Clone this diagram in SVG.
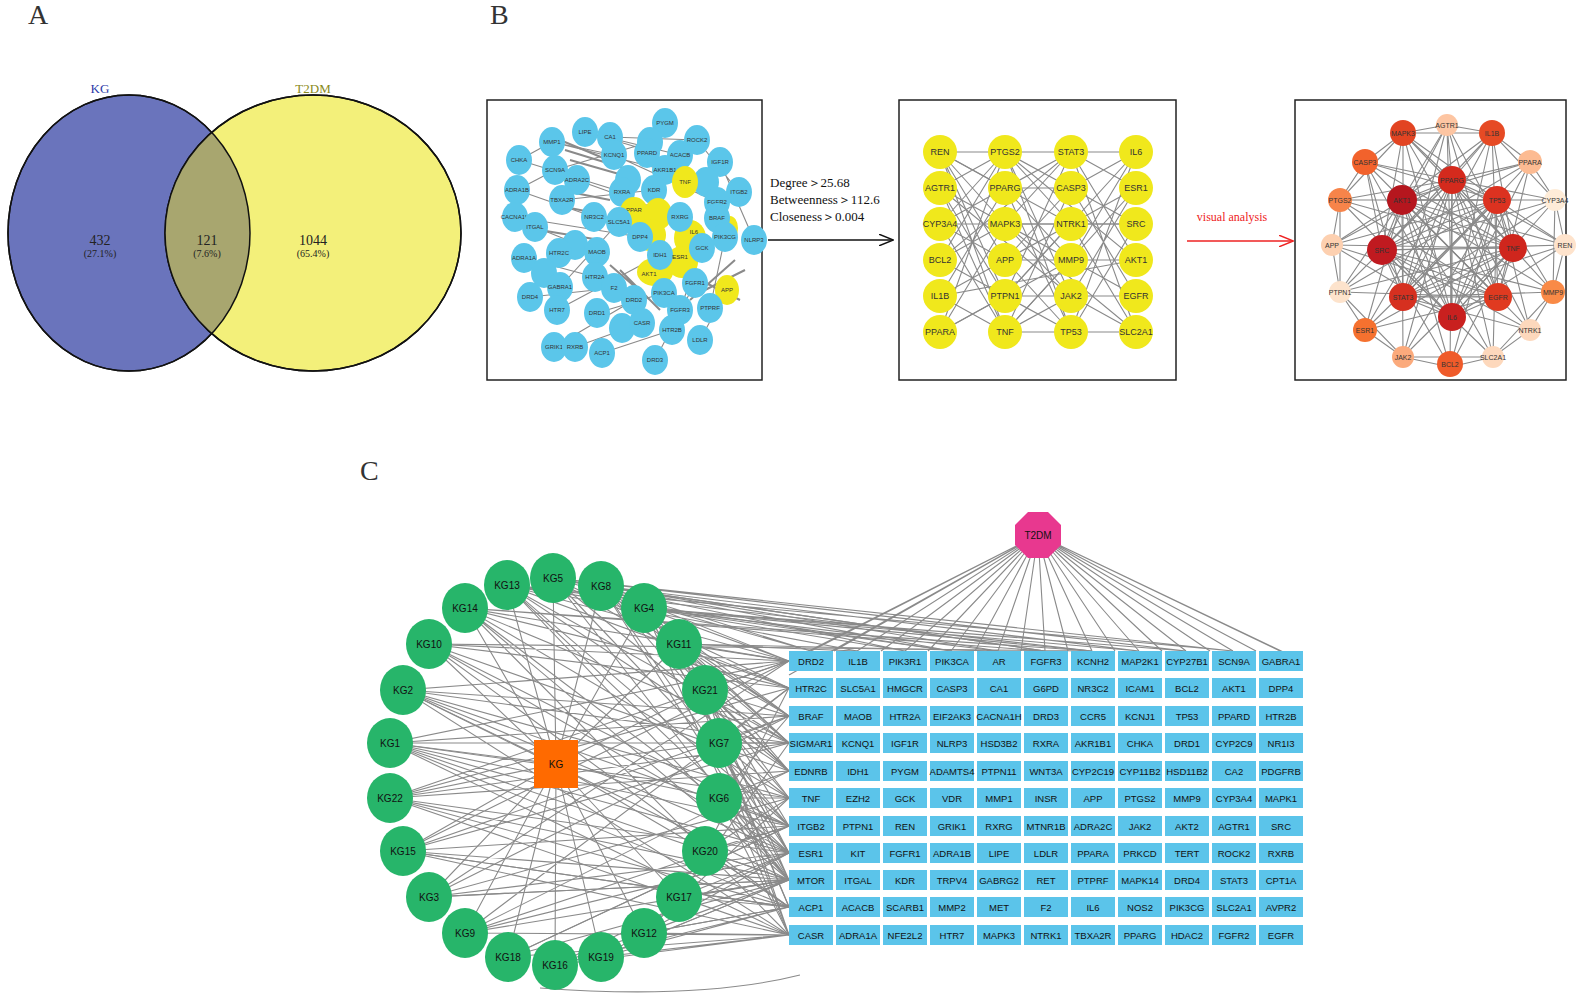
<svg xmlns="http://www.w3.org/2000/svg" width="1588" height="1008" viewBox="0 0 1588 1008">
<style>
.pl{font-family:"Liberation Serif",serif;font-size:28px;fill:#333}
.sv{font-family:"Liberation Serif",serif;fill:#222;text-anchor:middle}
.e{stroke:#8a8a8a;fill:none;stroke-width:1.1}
.bx{fill:#fff;stroke:#222;stroke-width:1.5}
.b1 ellipse{fill:#5bc6ea}
.b1 text,.b2 text,.b3 text{font-family:"Liberation Sans",sans-serif;font-size:6px;fill:#333;text-anchor:middle;dominant-baseline:central}
.b2 circle{fill:#f0e81c}
.b2 text{font-size:9px}
.b3 text{font-size:7px}
.g ellipse{fill:#27b56a}
.g text,.c text{font-family:"Liberation Sans",sans-serif;font-size:10px;fill:#111;text-anchor:middle;dominant-baseline:central}
.c text{font-size:9.5px}
.c rect{fill:#5bc4ea}
</style>
<defs>
<clipPath id="cb"><ellipse cx="129" cy="233" rx="121" ry="138"/></clipPath>
<marker id="ak" markerWidth="10" markerHeight="8" refX="9" refY="4" orient="auto"><path d="M0 0L10 4L0 8" fill="none" stroke="#111"/></marker>
<marker id="ar" markerWidth="10" markerHeight="8" refX="9" refY="4" orient="auto"><path d="M0 0L10 4L0 8" fill="none" stroke="#e22"/></marker>
</defs>
<rect width="1588" height="1008" fill="#fff"/>
<text class="pl" x="28" y="24">A</text>
<text class="pl" x="490" y="24">B</text>
<text class="pl" x="360" y="480">C</text>

<g id="venn">
<ellipse cx="129" cy="233" rx="121" ry="138" fill="#6a74bc" stroke="#111" stroke-width="1.5"/>
<ellipse cx="313" cy="233" rx="148" ry="138" fill="#f3f07a" stroke="#111" stroke-width="1.5"/>
<ellipse cx="313" cy="233" rx="148" ry="138" fill="#a8a66f" clip-path="url(#cb)"/>
<ellipse cx="129" cy="233" rx="121" ry="138" fill="none" stroke="#111" stroke-width="1.5"/>
<ellipse cx="313" cy="233" rx="148" ry="138" fill="none" stroke="#111" stroke-width="1.5"/>
<text class="sv" x="100" y="93" font-size="13" style="fill:#2a3aa8">KG</text>
<text class="sv" x="313" y="93" font-size="13" style="fill:#8a8a20">T2DM</text>
<text class="sv" x="100" y="245" font-size="14">432</text><text class="sv" x="100" y="257" font-size="10">(27.1%)</text>
<text class="sv" x="207" y="245" font-size="14">121</text><text class="sv" x="207" y="257" font-size="10">(7.6%)</text>
<text class="sv" x="313" y="245" font-size="14">1044</text><text class="sv" x="313" y="257" font-size="10">(65.4%)</text>
</g>

<rect class="bx" x="487" y="100" width="275" height="280"/>
<rect class="bx" x="899" y="100" width="277" height="280"/>
<rect class="bx" x="1295" y="100" width="271" height="280"/>

<g id="b1-edges" class="e">
<path d="M552 142L665 170M585 132L680 155M610 137L697 140M519 160L622 192M517 190L594 217M515 217L640 237M535 227L597 252M524 258L595 277M530 297L614 288M557 310L660 255M554 347L634 300M575 347L642 323M602 353L672 330M555 170L650 142M562 200L654 190M577 180L680 217M614 155L717 202M697 140L739 192M720 162L754 240M725 237L710 308M700 340L727 290M655 360L695 283M560 287L619 222M544 273L559 253M519 160L552 142M517 190L555 170M552 142L614 155M585 132L647 150M597 313L664 293M680 310L702 248"/>
<path d="M560 140L620 165M565 150L630 170M570 160L640 180M560 190L610 200M555 205L605 215M540 230L600 240M610 265L650 300M620 270L660 310M700 280L740 300M705 290L745 270M690 300L735 260" stroke-width="2"/>
</g>
<g id="b1" class="b1">
<ellipse cx="665" cy="123" rx="13" ry="15"/><text x="665" y="123">PYGM</text>
<ellipse cx="585" cy="132" rx="13" ry="15"/><text x="585" y="132">LIPE</text>
<ellipse cx="610" cy="137" rx="13" ry="15"/><text x="610" y="137">CA1</text>
<ellipse cx="697" cy="140" rx="13" ry="15"/><text x="697" y="140">ROCK2</text>
<ellipse cx="552" cy="142" rx="13" ry="15"/><text x="552" y="142">MMP1</text>
<ellipse cx="650" cy="142" rx="13" ry="15"/>
<ellipse cx="647" cy="153" rx="13" ry="15"/><text x="647" y="153">PPARD</text>
<ellipse cx="680" cy="155" rx="13" ry="15"/><text x="680" y="155">ACACB</text>
<ellipse cx="614" cy="155" rx="13" ry="15"/><text x="614" y="155">KCNQ1</text>
<ellipse cx="519" cy="160" rx="13" ry="15"/><text x="519" y="160">CHKA</text>
<ellipse cx="720" cy="162" rx="13" ry="15"/><text x="720" y="162">IGF1R</text>
<ellipse cx="665" cy="170" rx="13" ry="15"/><text x="665" y="170">AKR1B1</text>
<ellipse cx="555" cy="170" rx="13" ry="15"/><text x="555" y="170">SCN9A</text>
<ellipse cx="577" cy="180" rx="13" ry="15"/><text x="577" y="180">ADRA2C</text>
<ellipse cx="628" cy="180" rx="13" ry="15"/>
<ellipse cx="517" cy="190" rx="13" ry="15"/><text x="517" y="190">ADRA1B</text>
<ellipse cx="706" cy="182" rx="13" ry="15"/>
<ellipse cx="739" cy="192" rx="13" ry="15"/><text x="739" y="192">ITGB2</text>
<ellipse cx="622" cy="192" rx="13" ry="15"/><text x="622" y="192">RXRA</text>
<ellipse cx="654" cy="190" rx="13" ry="15"/><text x="654" y="190">KDR</text>
<ellipse cx="562" cy="200" rx="13" ry="15"/><text x="562" y="200">TBXA2R</text>
<ellipse cx="717" cy="202" rx="13" ry="15"/><text x="717" y="202">FGFR2</text>
<ellipse cx="685" cy="182" rx="13" ry="16" style="fill:#f0e81c"/><text x="685" y="182">TNF</text>
<ellipse cx="634" cy="212" rx="14" ry="15" style="fill:#f0e81c"/><text x="634" y="210">PPAR</text>
<ellipse cx="658" cy="214" rx="14" ry="16" style="fill:#f0e81c"/>
<ellipse cx="650" cy="235" rx="16" ry="16" style="fill:#f0e81c"/>
<ellipse cx="690" cy="238" rx="16" ry="18" style="fill:#f0e81c"/>
<ellipse cx="655" cy="272" rx="18" ry="14" style="fill:#f0e81c"/>
<ellipse cx="682" cy="262" rx="16" ry="16" style="fill:#f0e81c"/>
<ellipse cx="730" cy="228" rx="8" ry="12" style="fill:#f0e81c"/>
<ellipse cx="594" cy="217" rx="13" ry="15"/><text x="594" y="217">NR3C2</text>
<ellipse cx="515" cy="217" rx="13" ry="15"/><text x="515" y="217">CACNA1H</text>
<ellipse cx="619" cy="222" rx="13" ry="15"/><text x="619" y="222">SLC5A1</text>
<ellipse cx="680" cy="217" rx="13" ry="15"/><text x="680" y="217">RXRG</text>
<ellipse cx="717" cy="218" rx="13" ry="15"/><text x="717" y="218">BRAF</text>
<ellipse cx="535" cy="227" rx="13" ry="15"/><text x="535" y="227">ITGAL</text>
<ellipse cx="640" cy="237" rx="13" ry="15"/><text x="640" y="237">DPP4</text>
<text x="694" y="232">IL6</text>
<ellipse cx="725" cy="237" rx="13" ry="15"/><text x="725" y="237">PIK3CG</text>
<ellipse cx="754" cy="240" rx="13" ry="15"/><text x="754" y="240">NLRP3</text>
<ellipse cx="575" cy="245" rx="13" ry="15"/>
<ellipse cx="559" cy="253" rx="13" ry="15"/><text x="559" y="253">HTR2C</text>
<ellipse cx="597" cy="252" rx="13" ry="15"/><text x="597" y="252">MAOB</text>
<ellipse cx="660" cy="255" rx="13" ry="15"/><text x="660" y="255">IDH1</text>
<text x="680" y="257">ESR1</text>
<ellipse cx="702" cy="248" rx="13" ry="15"/><text x="702" y="248">GCK</text>
<ellipse cx="524" cy="258" rx="13" ry="15"/><text x="524" y="258">ADRA1A</text>
<ellipse cx="544" cy="273" rx="13" ry="15"/>
<ellipse cx="595" cy="277" rx="13" ry="15"/><text x="595" y="277">HTR2A</text>
<text x="649" y="274">AKT1</text>
<ellipse cx="695" cy="283" rx="13" ry="15"/><text x="695" y="283">FGFR1</text>
<ellipse cx="560" cy="287" rx="13" ry="15"/><text x="560" y="287">GABRA1</text>
<ellipse cx="614" cy="288" rx="13" ry="15"/><text x="614" y="288">F2</text>
<ellipse cx="664" cy="293" rx="13" ry="15"/><text x="664" y="293">PIK3CA</text>
<ellipse cx="727" cy="290" rx="12" ry="15" style="fill:#f0e81c"/><text x="727" y="290">APP</text>
<ellipse cx="530" cy="297" rx="13" ry="15"/><text x="530" y="297">DRD4</text>
<ellipse cx="634" cy="300" rx="13" ry="15"/><text x="634" y="300">DRD2</text>
<ellipse cx="680" cy="310" rx="13" ry="15"/><text x="680" y="310">FGFR3</text>
<ellipse cx="710" cy="308" rx="13" ry="15"/><text x="710" y="308">PTPRF</text>
<ellipse cx="557" cy="310" rx="13" ry="15"/><text x="557" y="310">HTR7</text>
<ellipse cx="597" cy="313" rx="13" ry="15"/><text x="597" y="313">DRD1</text>
<ellipse cx="622" cy="328" rx="13" ry="15"/>
<ellipse cx="642" cy="323" rx="13" ry="15"/><text x="642" y="323">CASR</text>
<ellipse cx="672" cy="330" rx="13" ry="15"/><text x="672" y="330">HTR2B</text>
<ellipse cx="700" cy="340" rx="13" ry="15"/><text x="700" y="340">LDLR</text>
<ellipse cx="554" cy="347" rx="13" ry="15"/><text x="554" y="347">GRIK1</text>
<ellipse cx="575" cy="347" rx="13" ry="15"/><text x="575" y="347">RXRB</text>
<ellipse cx="602" cy="353" rx="13" ry="15"/><text x="602" y="353">ACP1</text>
<ellipse cx="655" cy="360" rx="13" ry="15"/><text x="655" y="360">DRD3</text>
</g>

<g id="arrows">
<path d="M768 240H892" stroke="#111" stroke-width="1.5" marker-end="url(#ak)"/>
<text x="770" y="187" font-family="Liberation Serif,serif" font-size="13" fill="#111">Degree＞25.68</text>
<text x="770" y="204" font-family="Liberation Serif,serif" font-size="13" fill="#111">Betweenness＞112.6</text>
<text x="770" y="221" font-family="Liberation Serif,serif" font-size="13" fill="#111">Closeness＞0.004</text>
<path d="M1187 241H1292" stroke="#e22" stroke-width="1.5" marker-end="url(#ar)"/>
<text x="1232" y="221" font-family="Liberation Serif,serif" font-size="12" fill="#e22" text-anchor="middle">visual analysis</text>
</g>

<g id="b2-edges" class="e" stroke-width="0.8">
<path d="M940 152L1005 152M940 152L1005 188M940 152L1005 224M940 152L1005 260M940 152L1005 296M940 152L1005 332M940 188L1005 152M940 188L1005 224M940 188L1005 296M940 188L1005 332M940 224L1005 152M940 224L1005 188M940 224L1005 260M940 224L1005 332M940 260L1005 152M940 260L1005 224M940 260L1005 296M940 296L1005 188M940 296L1005 260M940 296L1005 332M940 332L1005 152M940 332L1005 224M940 332L1005 296"/>
<path d="M1005 152L1071 152M1005 152L1071 224M1005 152L1071 296M1005 152L1071 332M1005 188L1071 188M1005 188L1071 260M1005 188L1071 332M1005 224L1071 152M1005 224L1071 224M1005 224L1071 296M1005 260L1071 188M1005 260L1071 260M1005 260L1071 332M1005 296L1071 152M1005 296L1071 224M1005 296L1071 296M1005 332L1071 188M1005 332L1071 260M1005 332L1071 332M1005 152L1071 188M1005 188L1071 152M1005 224L1071 260M1005 260L1071 224M1005 296L1071 332M1005 332L1071 296"/>
<path d="M1071 152L1136 152M1071 152L1136 188M1071 152L1136 260M1071 152L1136 332M1071 188L1136 152M1071 188L1136 224M1071 188L1136 296M1071 224L1136 188M1071 224L1136 224M1071 224L1136 332M1071 260L1136 152M1071 260L1136 260M1071 260L1136 296M1071 296L1136 188M1071 296L1136 296M1071 296L1136 332M1071 332L1136 152M1071 332L1136 224M1071 332L1136 332"/>
<path d="M940 152L1071 224M940 188L1071 296M940 260L1071 152M940 332L1071 260M1005 152L1136 260M1005 224L1136 332M1005 296L1136 152M1005 332L1136 188M940 224L1136 224M940 296L1136 260"/>
</g>
<g id="b2" class="b2">
<circle cx="940" cy="152" r="17"/><text x="940" y="152">REN</text>
<circle cx="1005" cy="152" r="17"/><text x="1005" y="152">PTGS2</text>
<circle cx="1071" cy="152" r="17"/><text x="1071" y="152">STAT3</text>
<circle cx="1136" cy="152" r="17"/><text x="1136" y="152">IL6</text>
<circle cx="940" cy="188" r="17"/><text x="940" y="188">AGTR1</text>
<circle cx="1005" cy="188" r="17"/><text x="1005" y="188">PPARG</text>
<circle cx="1071" cy="188" r="17"/><text x="1071" y="188">CASP3</text>
<circle cx="1136" cy="188" r="17"/><text x="1136" y="188">ESR1</text>
<circle cx="940" cy="224" r="17"/><text x="940" y="224">CYP3A4</text>
<circle cx="1005" cy="224" r="17"/><text x="1005" y="224">MAPK3</text>
<circle cx="1071" cy="224" r="17"/><text x="1071" y="224">NTRK1</text>
<circle cx="1136" cy="224" r="17"/><text x="1136" y="224">SRC</text>
<circle cx="940" cy="260" r="17"/><text x="940" y="260">BCL2</text>
<circle cx="1005" cy="260" r="17"/><text x="1005" y="260">APP</text>
<circle cx="1071" cy="260" r="17"/><text x="1071" y="260">MMP9</text>
<circle cx="1136" cy="260" r="17"/><text x="1136" y="260">AKT1</text>
<circle cx="940" cy="296" r="17"/><text x="940" y="296">IL1B</text>
<circle cx="1005" cy="296" r="17"/><text x="1005" y="296">PTPN1</text>
<circle cx="1071" cy="296" r="17"/><text x="1071" y="296">JAK2</text>
<circle cx="1136" cy="296" r="17"/><text x="1136" y="296">EGFR</text>
<circle cx="940" cy="332" r="17"/><text x="940" y="332">PPARA</text>
<circle cx="1005" cy="332" r="17"/><text x="1005" y="332">TNF</text>
<circle cx="1071" cy="332" r="17"/><text x="1071" y="332">TP53</text>
<circle cx="1136" cy="332" r="17"/><text x="1136" y="332">SLC2A1</text>
</g>

<g id="b3-edges" class="e" stroke-width="1">
<path d="M1452 180L1447 125L1452 180L1403 133L1452 180L1492 133L1452 180L1365 162L1452 180L1530 162L1452 180L1340 200L1452 180L1555 200L1452 180L1332 245L1452 180L1565 245L1452 180L1340 292L1452 180L1553 292L1452 180L1365 330L1452 180L1530 330L1452 180L1403 357L1452 180L1450 367L1452 180L1493 357"/>
<path d="M1402 200L1447 125L1402 200L1492 133L1402 200L1530 162L1402 200L1555 200L1402 200L1565 245L1402 200L1553 292L1402 200L1530 330L1402 200L1493 357L1402 200L1450 367L1402 200L1403 357L1402 200L1365 330L1402 200L1340 292L1402 200L1332 245"/>
<path d="M1497 200L1403 133L1497 200L1365 162L1497 200L1340 200L1497 200L1332 245L1497 200L1340 292L1497 200L1365 330L1497 200L1403 357L1497 200L1450 367L1497 200L1493 357L1497 200L1530 330L1497 200L1553 292L1497 200L1565 245"/>
<path d="M1382 250L1447 125L1382 250L1492 133L1382 250L1530 162L1382 250L1555 200L1382 250L1565 245L1382 250L1553 292L1382 250L1530 330L1382 250L1493 357L1382 250L1450 367L1382 250L1403 133L1382 250L1365 162"/>
<path d="M1513 248L1447 125L1513 248L1403 133L1513 248L1365 162L1513 248L1340 200L1513 248L1332 245L1513 248L1340 292L1513 248L1365 330L1513 248L1403 357L1513 248L1450 367L1513 248L1492 133"/>
<path d="M1403 297L1447 125L1403 297L1492 133L1403 297L1530 162L1403 297L1555 200L1403 297L1565 245L1403 297L1553 292L1403 297L1530 330L1403 297L1365 162L1403 297L1403 133"/>
<path d="M1498 297L1447 125L1498 297L1403 133L1498 297L1365 162L1498 297L1340 200L1498 297L1332 245L1498 297L1340 292L1498 297L1365 330L1498 297L1530 162L1498 297L1492 133"/>
<path d="M1452 317L1447 125L1452 317L1403 133L1452 317L1492 133L1452 317L1365 162L1452 317L1530 162L1452 317L1340 200L1452 317L1555 200L1452 317L1332 245L1452 317L1565 245"/>
<path d="M1452 180L1402 200L1452 180L1497 200L1452 180L1382 250L1452 180L1513 248L1452 180L1403 297L1452 180L1498 297L1452 180L1452 317L1402 200L1497 200L1402 200L1382 250L1402 200L1513 248L1402 200L1498 297L1402 200L1452 317L1497 200L1382 250L1497 200L1513 248L1497 200L1403 297L1497 200L1452 317L1382 250L1513 248L1382 250L1403 297L1382 250L1498 297L1513 248L1403 297L1513 248L1452 317L1403 297L1498 297L1403 297L1452 317L1498 297L1452 317"/>
<path d="M1447 125L1403 133L1365 162L1340 200L1332 245L1340 292L1365 330L1403 357L1450 367L1493 357L1530 330L1553 292L1565 245L1555 200L1530 162L1492 133L1447 125M1403 133L1340 200L1340 292L1403 357L1493 357L1553 292L1555 200L1492 133Z"/>
</g>
<g id="b3" class="b3">
<circle cx="1447" cy="125" r="11" fill="#fdc5a2"/><text x="1447" y="125">AGTR1</text>
<circle cx="1403" cy="133" r="13" fill="#e24422"/><text x="1403" y="133">MAPK3</text>
<circle cx="1492" cy="133" r="13" fill="#e64a24"/><text x="1492" y="133">IL1B</text>
<circle cx="1365" cy="162" r="13" fill="#f2622c"/><text x="1365" y="162">CASP3</text>
<circle cx="1530" cy="162" r="12" fill="#fcbb92"/><text x="1530" y="162">PPARA</text>
<circle cx="1452" cy="180" r="14" fill="#d42a1d"/><text x="1452" y="180">PPARG</text>
<circle cx="1402" cy="200" r="15" fill="#b5161e"/><text x="1402" y="200">AKT1</text>
<circle cx="1497" cy="200" r="14" fill="#dc3220"/><text x="1497" y="200">TP53</text>
<circle cx="1340" cy="200" r="12" fill="#f7844a"/><text x="1340" y="200">PTGS2</text>
<circle cx="1555" cy="200" r="11" fill="#feecd8"/><text x="1555" y="200">CYP3A4</text>
<circle cx="1332" cy="245" r="11" fill="#fdd0b0"/><text x="1332" y="245">APP</text>
<circle cx="1382" cy="250" r="15" fill="#c01a20"/><text x="1382" y="250">SRC</text>
<circle cx="1513" cy="248" r="14" fill="#cf261d"/><text x="1513" y="248">TNF</text>
<circle cx="1565" cy="245" r="11" fill="#fee3cc"/><text x="1565" y="245">REN</text>
<circle cx="1340" cy="292" r="11" fill="#fde3cc"/><text x="1340" y="292">PTPN1</text>
<circle cx="1403" cy="297" r="14" fill="#d63020"/><text x="1403" y="297">STAT3</text>
<circle cx="1498" cy="297" r="14" fill="#e03a20"/><text x="1498" y="297">EGFR</text>
<circle cx="1553" cy="292" r="12" fill="#f98a47"/><text x="1553" y="292">MMP9</text>
<circle cx="1452" cy="317" r="14" fill="#c9201f"/><text x="1452" y="317">IL6</text>
<circle cx="1365" cy="330" r="12" fill="#f5712f"/><text x="1365" y="330">ESR1</text>
<circle cx="1530" cy="330" r="11" fill="#fdd8bc"/><text x="1530" y="330">NTRK1</text>
<circle cx="1403" cy="357" r="11" fill="#fbaa7c"/><text x="1403" y="357">JAK2</text>
<circle cx="1450" cy="364" r="13" fill="#ef5b2a"/><text x="1450" y="364">BCL2</text>
<circle cx="1493" cy="357" r="11" fill="#fdd8bc"/><text x="1493" y="357">SLC2A1</text>
</g>

<g id="c-edges" class="e" stroke-width="1.2">
<path d="M1038 535L811 651M1038 535L857 651M1038 535L905 651M1038 535L951 651M1038 535L998 651M1038 535L1045 651M1038 535L1092 651M1038 535L1139 651M1038 535L1186 651M1038 535L1233 651M1038 535L1280 651M1038 535L834 651M1038 535L881 651M1038 535L928 651M1038 535L975 651M1038 535L1021 651M1038 535L1068 651M1038 535L1115 651M1038 535L1162 651M1038 535L1210 651M1038 535L1256 651M1038 535L1300 660M1038 535L789 661M1038 535L789 675"/>
<path d="M556 764L553 578M556 764L507 585M556 764L601 586M556 764L465 608M556 764L644 608M556 764L429 644M556 764L679 644M556 764L403 690M556 764L705 690M556 764L390 743M556 764L719 743M556 764L390 798M556 764L719 798M556 764L403 851M556 764L705 851M556 764L429 897M556 764L679 897M556 764L465 933M556 764L644 933M556 764L508 957M556 764L555 965M556 764L601 957"/>
<path d="M553 578L811 651L553 578L905 651L553 578L998 651L553 578L789 716L553 578L789 826L507 585L857 651L507 585L951 651L507 585L789 688L507 585L789 771L601 586L811 651L601 586L1045 651L601 586L789 661L601 586L789 743L601 586L789 880L465 608L789 661L465 608L789 743L465 608L789 853L644 608L789 661L644 608L789 716L644 608L789 798L644 608L905 651L644 608L1092 651L429 644L789 688L429 644L789 771L429 644L789 907"/>
<path d="M679 644L789 661L679 644L789 688L679 644L789 743L679 644L789 826L679 644L789 935L403 690L789 661L403 690L789 716L403 690L789 798L403 690L789 880L705 690L789 661L705 690L789 716L705 690L789 771L705 690L789 853L705 690L789 935L390 743L789 661L390 743L789 743L390 743L789 826L390 743L789 907L719 743L789 688L719 743L789 743L719 743L789 798L719 743L789 880"/>
<path d="M390 798L789 688L390 798L789 771L390 798L789 853L390 798L789 935L719 798L789 716L719 798L789 798L719 798L789 853L719 798L789 935L403 851L789 661L403 851L789 743L403 851L789 826L403 851L789 907L705 851L789 688L705 851L789 798L705 851L789 880L429 897L789 716L429 897L789 798L429 897L789 880L679 897L789 743L679 897L789 853L679 897L789 935"/>
<path d="M465 933L789 771L465 933L789 880L465 933L789 935L644 933L789 798L644 933L789 907L644 933L789 935L508 957L789 826L508 957L789 935L555 965L789 853L555 965L789 935L601 957L789 880L601 957L789 935"/>
<path d="M553 578L789 688L553 578L789 771L553 578L789 880L507 585L789 661L507 585L789 743L507 585L789 853L601 586L789 716L601 586L789 798L465 608L789 688L465 608L789 798L465 608L789 935L644 608L789 743L644 608L789 853L429 644L789 661L429 644L789 826L403 690L789 743L403 690L789 853L390 743L789 716L390 743L789 798L390 743L789 880L390 798L789 661L390 798L789 743L390 798L789 907L403 851L789 716L403 851L789 880L429 897L789 661L429 897L789 853L465 933L789 688L465 933L789 826L508 957L789 880L555 965L789 907L601 957L789 907L679 644L789 716L679 644L789 771L705 690L789 743L719 743L789 716L719 743L789 826L719 798L789 771L719 798L789 880L705 851L789 826L705 851L789 907L679 897L789 880L679 897L789 907L644 933L789 880L601 957L789 853"/>
<path d="M601 586L1139 651L644 608L1186 651L553 578L1233 651L507 585L1092 651L465 608L1045 651L601 586L951 651L644 608L998 651L679 644L857 651"/>
<path d="M540 988Q700 1000 800 975" />
</g>

<g id="T2DM"><polygon points="1028,512 1048,512 1061,525 1061,545 1048,558 1028,558 1015,545 1015,525" fill="#e8388f"/><text x="1038" y="535" font-family="Liberation Sans,sans-serif" font-size="10" text-anchor="middle" dominant-baseline="central" fill="#111">T2DM</text></g>
<g id="KG"><rect x="534" y="740" width="44" height="48" fill="#ff6a00"/><text x="556" y="764" font-family="Liberation Sans,sans-serif" font-size="10" text-anchor="middle" dominant-baseline="central" fill="#111">KG</text></g>

<g id="kg-nodes" class="g">
<g id="KG5"><ellipse cx="553" cy="578" rx="23" ry="25"/><text x="553" y="578">KG5</text></g>
<g id="KG13"><ellipse cx="507" cy="585" rx="23" ry="25"/><text x="507" y="585">KG13</text></g>
<g id="KG8"><ellipse cx="601" cy="586" rx="23" ry="25"/><text x="601" y="586">KG8</text></g>
<g id="KG14"><ellipse cx="465" cy="608" rx="23" ry="25"/><text x="465" y="608">KG14</text></g>
<g id="KG4"><ellipse cx="644" cy="608" rx="23" ry="25"/><text x="644" y="608">KG4</text></g>
<g id="KG10"><ellipse cx="429" cy="644" rx="23" ry="25"/><text x="429" y="644">KG10</text></g>
<g id="KG11"><ellipse cx="679" cy="644" rx="23" ry="25"/><text x="679" y="644">KG11</text></g>
<g id="KG2"><ellipse cx="403" cy="690" rx="23" ry="25"/><text x="403" y="690">KG2</text></g>
<g id="KG21"><ellipse cx="705" cy="690" rx="23" ry="25"/><text x="705" y="690">KG21</text></g>
<g id="KG1"><ellipse cx="390" cy="743" rx="23" ry="25"/><text x="390" y="743">KG1</text></g>
<g id="KG7"><ellipse cx="719" cy="743" rx="23" ry="25"/><text x="719" y="743">KG7</text></g>
<g id="KG22"><ellipse cx="390" cy="798" rx="23" ry="25"/><text x="390" y="798">KG22</text></g>
<g id="KG6"><ellipse cx="719" cy="798" rx="23" ry="25"/><text x="719" y="798">KG6</text></g>
<g id="KG15"><ellipse cx="403" cy="851" rx="23" ry="25"/><text x="403" y="851">KG15</text></g>
<g id="KG20"><ellipse cx="705" cy="851" rx="23" ry="25"/><text x="705" y="851">KG20</text></g>
<g id="KG3"><ellipse cx="429" cy="897" rx="23" ry="25"/><text x="429" y="897">KG3</text></g>
<g id="KG17"><ellipse cx="679" cy="897" rx="23" ry="25"/><text x="679" y="897">KG17</text></g>
<g id="KG9"><ellipse cx="465" cy="933" rx="23" ry="25"/><text x="465" y="933">KG9</text></g>
<g id="KG12"><ellipse cx="644" cy="933" rx="23" ry="25"/><text x="644" y="933">KG12</text></g>
<g id="KG18"><ellipse cx="508" cy="957" rx="23" ry="25"/><text x="508" y="957">KG18</text></g>
<g id="KG16"><ellipse cx="555" cy="965" rx="23" ry="25"/><text x="555" y="965">KG16</text></g>
<g id="KG19"><ellipse cx="601" cy="957" rx="23" ry="25"/><text x="601" y="957">KG19</text></g>
</g>

<g id="targets" class="c">
<g transform="translate(0,661)">
<rect x="789" y="-10" width="44" height="20"/><text x="811">DRD2</text><rect x="836" y="-10" width="44" height="20"/><text x="858">IL1B</text><rect x="883" y="-10" width="44" height="20"/><text x="905">PIK3R1</text><rect x="930" y="-10" width="44" height="20"/><text x="952">PIK3CA</text><rect x="977" y="-10" width="44" height="20"/><text x="999">AR</text><rect x="1024" y="-10" width="44" height="20"/><text x="1046">FGFR3</text><rect x="1071" y="-10" width="44" height="20"/><text x="1093">KCNH2</text><rect x="1118" y="-10" width="44" height="20"/><text x="1140">MAP2K1</text><rect x="1165" y="-10" width="44" height="20"/><text x="1187">CYP27B1</text><rect x="1212" y="-10" width="44" height="20"/><text x="1234">SCN9A</text><rect x="1259" y="-10" width="44" height="20"/><text x="1281">GABRA1</text></g>
<g transform="translate(0,688)">
<rect x="789" y="-10" width="44" height="20"/><text x="811">HTR2C</text><rect x="836" y="-10" width="44" height="20"/><text x="858">SLC5A1</text><rect x="883" y="-10" width="44" height="20"/><text x="905">HMGCR</text><rect x="930" y="-10" width="44" height="20"/><text x="952">CASP3</text><rect x="977" y="-10" width="44" height="20"/><text x="999">CA1</text><rect x="1024" y="-10" width="44" height="20"/><text x="1046">G6PD</text><rect x="1071" y="-10" width="44" height="20"/><text x="1093">NR3C2</text><rect x="1118" y="-10" width="44" height="20"/><text x="1140">ICAM1</text><rect x="1165" y="-10" width="44" height="20"/><text x="1187">BCL2</text><rect x="1212" y="-10" width="44" height="20"/><text x="1234">AKT1</text><rect x="1259" y="-10" width="44" height="20"/><text x="1281">DPP4</text></g>
<g transform="translate(0,716)">
<rect x="789" y="-10" width="44" height="20"/><text x="811">BRAF</text><rect x="836" y="-10" width="44" height="20"/><text x="858">MAOB</text><rect x="883" y="-10" width="44" height="20"/><text x="905">HTR2A</text><rect x="930" y="-10" width="44" height="20"/><text x="952">EIF2AK3</text><rect x="977" y="-10" width="44" height="20"/><text x="999">CACNA1H</text><rect x="1024" y="-10" width="44" height="20"/><text x="1046">DRD3</text><rect x="1071" y="-10" width="44" height="20"/><text x="1093">CCR5</text><rect x="1118" y="-10" width="44" height="20"/><text x="1140">KCNJ1</text><rect x="1165" y="-10" width="44" height="20"/><text x="1187">TP53</text><rect x="1212" y="-10" width="44" height="20"/><text x="1234">PPARD</text><rect x="1259" y="-10" width="44" height="20"/><text x="1281">HTR2B</text></g>
<g transform="translate(0,743)">
<rect x="789" y="-10" width="44" height="20"/><text x="811">SIGMAR1</text><rect x="836" y="-10" width="44" height="20"/><text x="858">KCNQ1</text><rect x="883" y="-10" width="44" height="20"/><text x="905">IGF1R</text><rect x="930" y="-10" width="44" height="20"/><text x="952">NLRP3</text><rect x="977" y="-10" width="44" height="20"/><text x="999">HSD3B2</text><rect x="1024" y="-10" width="44" height="20"/><text x="1046">RXRA</text><rect x="1071" y="-10" width="44" height="20"/><text x="1093">AKR1B1</text><rect x="1118" y="-10" width="44" height="20"/><text x="1140">CHKA</text><rect x="1165" y="-10" width="44" height="20"/><text x="1187">DRD1</text><rect x="1212" y="-10" width="44" height="20"/><text x="1234">CYP2C9</text><rect x="1259" y="-10" width="44" height="20"/><text x="1281">NR1I3</text></g>
<g transform="translate(0,771)">
<rect x="789" y="-10" width="44" height="20"/><text x="811">EDNRB</text><rect x="836" y="-10" width="44" height="20"/><text x="858">IDH1</text><rect x="883" y="-10" width="44" height="20"/><text x="905">PYGM</text><rect x="930" y="-10" width="44" height="20"/><text x="952">ADAMTS4</text><rect x="977" y="-10" width="44" height="20"/><text x="999">PTPN11</text><rect x="1024" y="-10" width="44" height="20"/><text x="1046">WNT3A</text><rect x="1071" y="-10" width="44" height="20"/><text x="1093">CYP2C19</text><rect x="1118" y="-10" width="44" height="20"/><text x="1140">CYP11B2</text><rect x="1165" y="-10" width="44" height="20"/><text x="1187">HSD11B2</text><rect x="1212" y="-10" width="44" height="20"/><text x="1234">CA2</text><rect x="1259" y="-10" width="44" height="20"/><text x="1281">PDGFRB</text></g>
<g transform="translate(0,798)">
<rect x="789" y="-10" width="44" height="20"/><text x="811">TNF</text><rect x="836" y="-10" width="44" height="20"/><text x="858">EZH2</text><rect x="883" y="-10" width="44" height="20"/><text x="905">GCK</text><rect x="930" y="-10" width="44" height="20"/><text x="952">VDR</text><rect x="977" y="-10" width="44" height="20"/><text x="999">MMP1</text><rect x="1024" y="-10" width="44" height="20"/><text x="1046">INSR</text><rect x="1071" y="-10" width="44" height="20"/><text x="1093">APP</text><rect x="1118" y="-10" width="44" height="20"/><text x="1140">PTGS2</text><rect x="1165" y="-10" width="44" height="20"/><text x="1187">MMP9</text><rect x="1212" y="-10" width="44" height="20"/><text x="1234">CYP3A4</text><rect x="1259" y="-10" width="44" height="20"/><text x="1281">MAPK1</text></g>
<g transform="translate(0,826)">
<rect x="789" y="-10" width="44" height="20"/><text x="811">ITGB2</text><rect x="836" y="-10" width="44" height="20"/><text x="858">PTPN1</text><rect x="883" y="-10" width="44" height="20"/><text x="905">REN</text><rect x="930" y="-10" width="44" height="20"/><text x="952">GRIK1</text><rect x="977" y="-10" width="44" height="20"/><text x="999">RXRG</text><rect x="1024" y="-10" width="44" height="20"/><text x="1046">MTNR1B</text><rect x="1071" y="-10" width="44" height="20"/><text x="1093">ADRA2C</text><rect x="1118" y="-10" width="44" height="20"/><text x="1140">JAK2</text><rect x="1165" y="-10" width="44" height="20"/><text x="1187">AKT2</text><rect x="1212" y="-10" width="44" height="20"/><text x="1234">AGTR1</text><rect x="1259" y="-10" width="44" height="20"/><text x="1281">SRC</text></g>
<g transform="translate(0,853)">
<rect x="789" y="-10" width="44" height="20"/><text x="811">ESR1</text><rect x="836" y="-10" width="44" height="20"/><text x="858">KIT</text><rect x="883" y="-10" width="44" height="20"/><text x="905">FGFR1</text><rect x="930" y="-10" width="44" height="20"/><text x="952">ADRA1B</text><rect x="977" y="-10" width="44" height="20"/><text x="999">LIPE</text><rect x="1024" y="-10" width="44" height="20"/><text x="1046">LDLR</text><rect x="1071" y="-10" width="44" height="20"/><text x="1093">PPARA</text><rect x="1118" y="-10" width="44" height="20"/><text x="1140">PRKCD</text><rect x="1165" y="-10" width="44" height="20"/><text x="1187">TERT</text><rect x="1212" y="-10" width="44" height="20"/><text x="1234">ROCK2</text><rect x="1259" y="-10" width="44" height="20"/><text x="1281">RXRB</text></g>
<g transform="translate(0,880)">
<rect x="789" y="-10" width="44" height="20"/><text x="811">MTOR</text><rect x="836" y="-10" width="44" height="20"/><text x="858">ITGAL</text><rect x="883" y="-10" width="44" height="20"/><text x="905">KDR</text><rect x="930" y="-10" width="44" height="20"/><text x="952">TRPV4</text><rect x="977" y="-10" width="44" height="20"/><text x="999">GABRG2</text><rect x="1024" y="-10" width="44" height="20"/><text x="1046">RET</text><rect x="1071" y="-10" width="44" height="20"/><text x="1093">PTPRF</text><rect x="1118" y="-10" width="44" height="20"/><text x="1140">MAPK14</text><rect x="1165" y="-10" width="44" height="20"/><text x="1187">DRD4</text><rect x="1212" y="-10" width="44" height="20"/><text x="1234">STAT3</text><rect x="1259" y="-10" width="44" height="20"/><text x="1281">CPT1A</text></g>
<g transform="translate(0,907)">
<rect x="789" y="-10" width="44" height="20"/><text x="811">ACP1</text><rect x="836" y="-10" width="44" height="20"/><text x="858">ACACB</text><rect x="883" y="-10" width="44" height="20"/><text x="905">SCARB1</text><rect x="930" y="-10" width="44" height="20"/><text x="952">MMP2</text><rect x="977" y="-10" width="44" height="20"/><text x="999">MET</text><rect x="1024" y="-10" width="44" height="20"/><text x="1046">F2</text><rect x="1071" y="-10" width="44" height="20"/><text x="1093">IL6</text><rect x="1118" y="-10" width="44" height="20"/><text x="1140">NOS2</text><rect x="1165" y="-10" width="44" height="20"/><text x="1187">PIK3CG</text><rect x="1212" y="-10" width="44" height="20"/><text x="1234">SLC2A1</text><rect x="1259" y="-10" width="44" height="20"/><text x="1281">AVPR2</text></g>
<g transform="translate(0,935)">
<rect x="789" y="-10" width="44" height="20"/><text x="811">CASR</text><rect x="836" y="-10" width="44" height="20"/><text x="858">ADRA1A</text><rect x="883" y="-10" width="44" height="20"/><text x="905">NFE2L2</text><rect x="930" y="-10" width="44" height="20"/><text x="952">HTR7</text><rect x="977" y="-10" width="44" height="20"/><text x="999">MAPK3</text><rect x="1024" y="-10" width="44" height="20"/><text x="1046">NTRK1</text><rect x="1071" y="-10" width="44" height="20"/><text x="1093">TBXA2R</text><rect x="1118" y="-10" width="44" height="20"/><text x="1140">PPARG</text><rect x="1165" y="-10" width="44" height="20"/><text x="1187">HDAC2</text><rect x="1212" y="-10" width="44" height="20"/><text x="1234">FGFR2</text><rect x="1259" y="-10" width="44" height="20"/><text x="1281">EGFR</text></g>
</g>
</svg>
